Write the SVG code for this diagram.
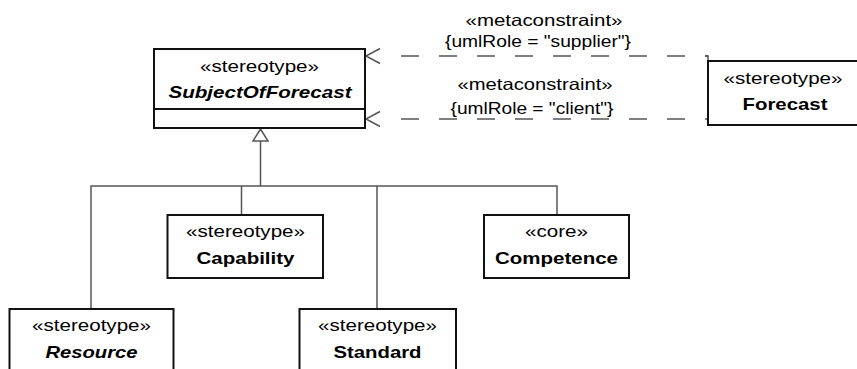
<svg xmlns="http://www.w3.org/2000/svg" width="857" height="369" viewBox="0 0 857 369">
  <style>
    .box { fill: #fff; stroke: #111; stroke-width: 2; }
    .conn { fill: none; stroke: #555; stroke-width: 1.5; }
    .dash { fill: none; stroke: #555; stroke-width: 1.5; stroke-dasharray: 3 20 18 20 18 20 18 20 18 20 18 20 18 20 18 20 18 60; }
    text { font-family: "Liberation Sans", Arial, sans-serif; font-size: 16.5px; fill: #000; text-anchor: middle; }
    .name { font-weight: bold; }
    .abs { font-weight: bold; font-style: italic; }
  </style>
  <defs>
    <marker id="openArrow" viewBox="-16 -10 20 20" refX="0" refY="0" markerWidth="20" markerHeight="20" markerUnits="userSpaceOnUse" orient="auto" overflow="visible">
      <path d="M-14,-7.5 L0,0 L-14,7.5" fill="none" stroke="#555" stroke-width="1.5"/>
    </marker>
  </defs>

  <g id="connectors">
    <!-- metaconstraint dependencies -->
    <path class="dash" d="M708,56 H366" marker-end="url(#openArrow)"/>
    <path class="dash" d="M708,119 H366" marker-end="url(#openArrow)"/>
    <path class="conn" d="M705,56 H708 V61"/>
    <text x="544" y="26" textLength="157" lengthAdjust="spacingAndGlyphs">«metaconstraint»</text>
    <text x="538" y="47" textLength="186" lengthAdjust="spacingAndGlyphs">{umlRole = "supplier"}</text>
    <text x="535" y="90" textLength="155" lengthAdjust="spacingAndGlyphs">«metaconstraint»</text>
    <text x="532" y="114" textLength="163" lengthAdjust="spacingAndGlyphs">{umlRole = "client"}</text>
    <!-- generalization tree -->
    <path class="conn" d="M260.5,141 V186"/>
    <path class="conn" d="M91,309 V186 H557 V215"/>
    <path class="conn" d="M241.5,186 V215"/>
    <path class="conn" d="M377,186 V309"/>
    <path d="M260.5,129 L253,141 H268 Z" fill="#fff" stroke="#555" stroke-width="1.5"/>
  </g>

  <g id="SubjectOfForecast">
    <rect class="box" x="154" y="49" width="211" height="79"/>
    <line x1="154" y1="109" x2="365" y2="109" stroke="#111" stroke-width="2"/>
    <text x="259.5" y="72" textLength="119" lengthAdjust="spacingAndGlyphs">«stereotype»</text>
    <text class="abs" x="260" y="98" textLength="183" lengthAdjust="spacingAndGlyphs">SubjectOfForecast</text>
  </g>

  <g id="Forecast">
    <rect class="box" x="708" y="61" width="170" height="64"/>
    <text x="783" y="84" textLength="119" lengthAdjust="spacingAndGlyphs">«stereotype»</text>
    <text class="name" x="785" y="110" textLength="85" lengthAdjust="spacingAndGlyphs">Forecast</text>
  </g>

  <g id="Capability">
    <rect class="box" x="167.5" y="215" width="155.5" height="63"/>
    <text x="245.5" y="237" textLength="119" lengthAdjust="spacingAndGlyphs">«stereotype»</text>
    <text class="name" x="245.5" y="264" textLength="98" lengthAdjust="spacingAndGlyphs">Capability</text>
  </g>

  <g id="Competence">
    <rect class="box" x="484" y="215" width="145" height="63"/>
    <text x="556.5" y="237" textLength="63" lengthAdjust="spacingAndGlyphs">«core»</text>
    <text class="name" x="556.5" y="264" textLength="123" lengthAdjust="spacingAndGlyphs">Competence</text>
  </g>

  <g id="Resource">
    <rect class="box" x="9.5" y="309" width="164" height="80"/>
    <text x="91.5" y="331" textLength="119" lengthAdjust="spacingAndGlyphs">«stereotype»</text>
    <text class="abs" x="91.5" y="358" textLength="92" lengthAdjust="spacingAndGlyphs">Resource</text>
  </g>

  <g id="Standard">
    <rect class="box" x="299.5" y="309" width="156.5" height="80"/>
    <text x="377.5" y="331" textLength="119" lengthAdjust="spacingAndGlyphs">«stereotype»</text>
    <text class="name" x="377.5" y="358" textLength="88" lengthAdjust="spacingAndGlyphs">Standard</text>
  </g>
</svg>
